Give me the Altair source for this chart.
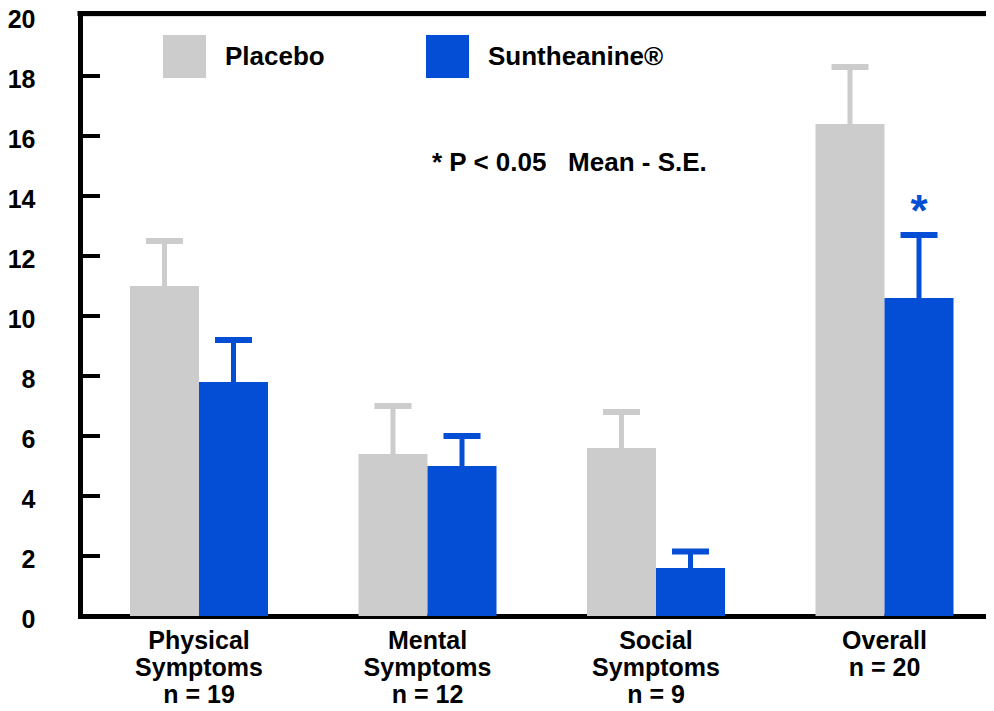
import altair as alt
import pandas as pd

categories = ["Physical\nSymptoms\nn = 19", "Mental\nSymptoms\nn = 12",
              "Social\nSymptoms\nn = 9", "Overall\nn = 20"]
groups = ["Placebo", "Suntheanine®"]
placebo_mean = [11.0, 5.4, 5.6, 16.4]
placebo_upper = [12.5, 7.0, 6.8, 18.3]
sunth_mean = [7.8, 5.0, 1.6, 10.6]
sunth_upper = [9.2, 6.0, 2.15, 12.7]
significant = ["", "", "", "*"]
y_ticks = [0, 2, 4, 6, 8, 10, 12, 14, 16, 18, 20]
inner_ticks = [2, 4, 6, 8, 10, 12, 14, 16, 18]
colors = ["#CCCCCC", "#034ED4"]
note = "* P < 0.05\u00a0\u00a0\u00a0Mean - S.E."

rows = []
for i, c in enumerate(categories):
    rows.append({"cat": c, "group": groups[0], "mean": placebo_mean[i],
                 "upper": placebo_upper[i], "sig": ""})
    rows.append({"cat": c, "group": groups[1], "mean": sunth_mean[i],
                 "upper": sunth_upper[i], "sig": significant[i]})
df = pd.DataFrame(rows)

W, H = 906, 600
FULL_W = 914
FONT = "Liberation Sans"

x_enc = alt.X("cat:N", sort=categories,
              scale=alt.Scale(paddingInner=0.396, paddingOuter=0.198, align=0.5525,
                              range=[0, FULL_W]),
              axis=alt.Axis(title=None, ticks=False, labelPadding=12, labelAngle=0,
                            labelFont=FONT, labelFontSize=25, labelFontWeight="bold",
                            labelColor="black", labelLineHeight=27,
                            labelExpr="split(datum.label, '\\n')",
                            domainColor="black", domainWidth=5, domainCap="square"))
xo_enc = alt.XOffset("group:N", sort=groups, scale=alt.Scale(paddingInner=0, paddingOuter=0))
color_scale = alt.Scale(domain=groups, range=colors)
y_scale = alt.Scale(domain=[0, 20], nice=False)

base = alt.Chart(df)

bars = base.mark_bar(size=69).encode(
    x=x_enc, xOffset=xo_enc,
    y=alt.Y("mean:Q", scale=y_scale,
            axis=alt.Axis(title=None, values=y_ticks, ticks=False, grid=False,
                          labelPadding=45, labelFont=FONT, labelFontSize=25,
                          labelFontWeight="bold", labelColor="black", labelOffset=3,
                          domainColor="black", domainWidth=5, domainCap="square")),
    color=alt.Color("group:N", sort=groups, scale=color_scale,
                    legend=alt.Legend(title=None, orient="none", legendX=83, legendY=19,
                                      direction="horizontal", symbolType="square",
                                      symbolSize=1849, symbolStrokeWidth=0,
                                      symbolOpacity=1, labelFont=FONT, labelFontSize=26,
                                      labelFontWeight="bold", labelColor="black",
                                      labelLimit=0, labelOffset=19, columnPadding=101,
                                      padding=0)),
)

whiskers = base.mark_rule(strokeWidth=5).encode(
    x=alt.X("cat:N", sort=categories), xOffset=alt.XOffset("group:N", sort=groups),
    y=alt.Y("mean:Q"), y2="upper:Q",
    color=alt.Color("group:N", sort=groups, scale=color_scale, legend=None),
)

caps = base.mark_tick(thickness=6, size=37, orient="horizontal", opacity=1).encode(
    x=alt.X("cat:N", sort=categories), xOffset=alt.XOffset("group:N", sort=groups),
    y=alt.Y("upper:Q"),
    color=alt.Color("group:N", sort=groups, scale=color_scale, legend=None),
)

stars = base.transform_filter("datum.sig != ''").mark_text(
    font=FONT, fontSize=44, fontWeight="bold", color=colors[1],
    baseline="alphabetic", align="center", dy=-9).encode(
    x=alt.X("cat:N", sort=categories), xOffset=alt.XOffset("group:N", sort=groups),
    y=alt.Y("upper:Q"), text="sig:N",
)

tick_df = pd.DataFrame({"v": inner_ticks})
inner = alt.Chart(tick_df).mark_rule(color="black", strokeWidth=4).encode(
    y=alt.Y("v:Q"), x=alt.value(0), x2=alt.value(20))

top_border = alt.Chart(pd.DataFrame({"v": [20]})).mark_rule(
    color="black", strokeWidth=5, yOffset=-2.5).encode(
    y=alt.Y("v:Q"), x=alt.value(-2.5), x2=alt.value(FULL_W))

note_layer = alt.Chart(pd.DataFrame({"t": [note], "v": [14.82]})).mark_text(
    font=FONT, fontSize=26, fontWeight="bold", color="black",
    align="left", baseline="alphabetic").encode(
    x=alt.value(352), y=alt.Y("v:Q"), text="t:N")

chart = alt.layer(bars, whiskers, caps, stars, inner, top_border, note_layer).properties(
    width=W, height=H,
    autosize=alt.AutoSizeParams(type="none"),
    padding={"left": 72, "top": 8, "right": 0, "bottom": 100},
).configure_view(stroke=None).configure(background="white")

chart.save("out.html", embed_options={"renderer": "svg", "actions": False})
